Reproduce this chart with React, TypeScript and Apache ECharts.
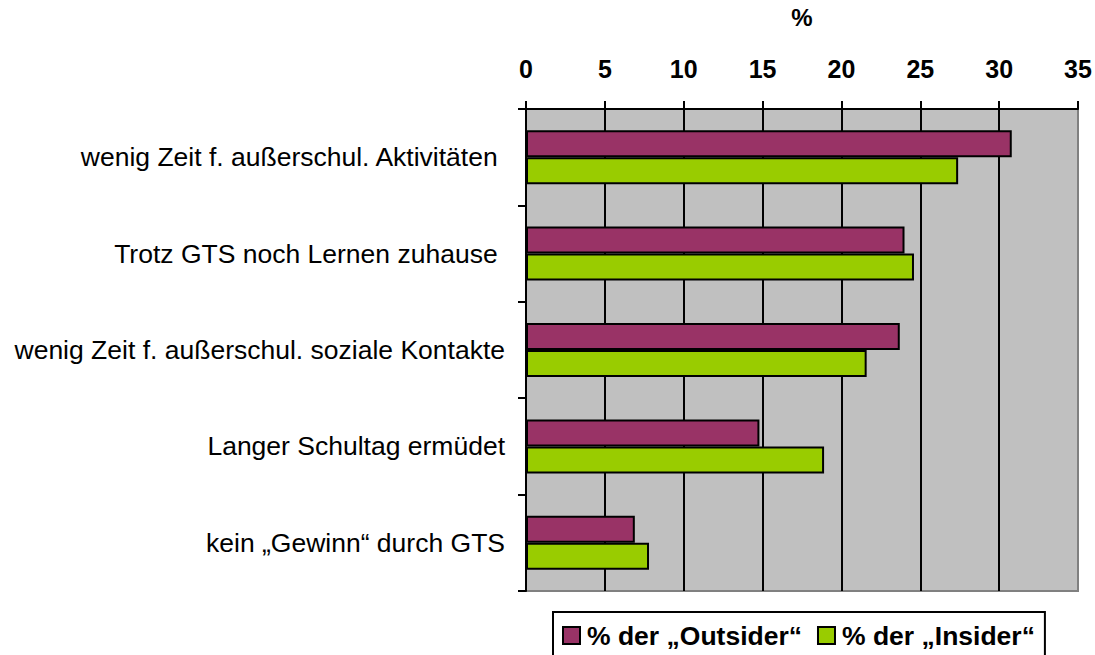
import React, { useEffect, useRef } from "react";
import * as echarts from "echarts";

const categories = [
  "wenig Zeit f. außerschul. Aktivitäten ",
  "Trotz GTS noch Lernen zuhause ",
  "wenig Zeit f. außerschul. soziale Kontakte",
  "Langer Schultag ermüdet",
  "kein „Gewinn“ durch GTS",
];
const outsider = [30.8, 24.0, 23.7, 14.8, 6.9];
const insider = [27.4, 24.6, 21.6, 18.9, 7.8];
const seriesNames = ["% der „Outsider“", "% der „Insider“"];

export default function App() {
  const ref = useRef<HTMLDivElement>(null);
  useEffect(() => {
    if (!ref.current) return;
    const chart = echarts.init(ref.current, undefined, { renderer: "svg" });
    const font = "Arial, 'Liberation Sans', sans-serif";
    chart.setOption({
      animation: false,
      textStyle: { fontFamily: font },
      grid: {
        left: 526,
        right: 17,
        top: 108,
        bottom: 64,
        show: true,
        backgroundColor: "#C0C0C0",
        borderColor: "#808080",
        borderWidth: 2,
      },
      legend: {
        left: 553,
        top: 612,
        itemWidth: 17,
        itemHeight: 17,
        itemGap: 15,
        icon: "rect",
        borderColor: "#000",
        borderWidth: 2,
        padding: [10, 10, 30, 9],
        backgroundColor: "#fff",
        textStyle: { fontFamily: font, fontSize: 26.5, fontWeight: "bold", color: "#000", padding: [0, 0, 0, 2] },
        data: seriesNames,
      },
      xAxis: {
        type: "value",
        position: "top",
        min: 0,
        max: 35,
        interval: 5,
        name: "%",
        nameLocation: "middle",
        nameGap: 80,
        nameTextStyle: { fontFamily: font, fontSize: 24, fontWeight: "bold", color: "#000" },
        axisLine: { show: true, lineStyle: { color: "#000", width: 2 } },
        axisTick: { show: true, length: 8, lineStyle: { color: "#000", width: 2 } },
        axisLabel: { fontFamily: font, fontSize: 25, fontWeight: "bold", color: "#000", margin: 28 },
        splitLine: { show: true, showMaxLine: false, lineStyle: { color: "#000", width: 2 } },
      },
      yAxis: {
        type: "category",
        inverse: true,
        data: categories,
        axisLine: { show: true, lineStyle: { color: "#000", width: 2 } },
        axisTick: { show: true, length: 8, lineStyle: { color: "#000", width: 2 } },
        axisLabel: { fontFamily: font, fontSize: 26.5, color: "#000", margin: 21 },
      },
      series: [
        {
          name: seriesNames[0],
          type: "bar",
          data: outsider,
          barCategoryGap: "44%",
          barGap: "0%",
          itemStyle: { color: "#993366", borderColor: "#000", borderWidth: 2 },
        },
        {
          name: seriesNames[1],
          type: "bar",
          data: insider,
          barCategoryGap: "44%",
          barGap: "0%",
          itemStyle: { color: "#99CC00", borderColor: "#000", borderWidth: 2 },
        },
      ],
    });
    return () => chart.dispose();
  }, []);
  return (
    <div
      ref={ref}
      style={{ position: "absolute", left: 0, top: 0, width: 1095, height: 655 }}
    />
  );
}
